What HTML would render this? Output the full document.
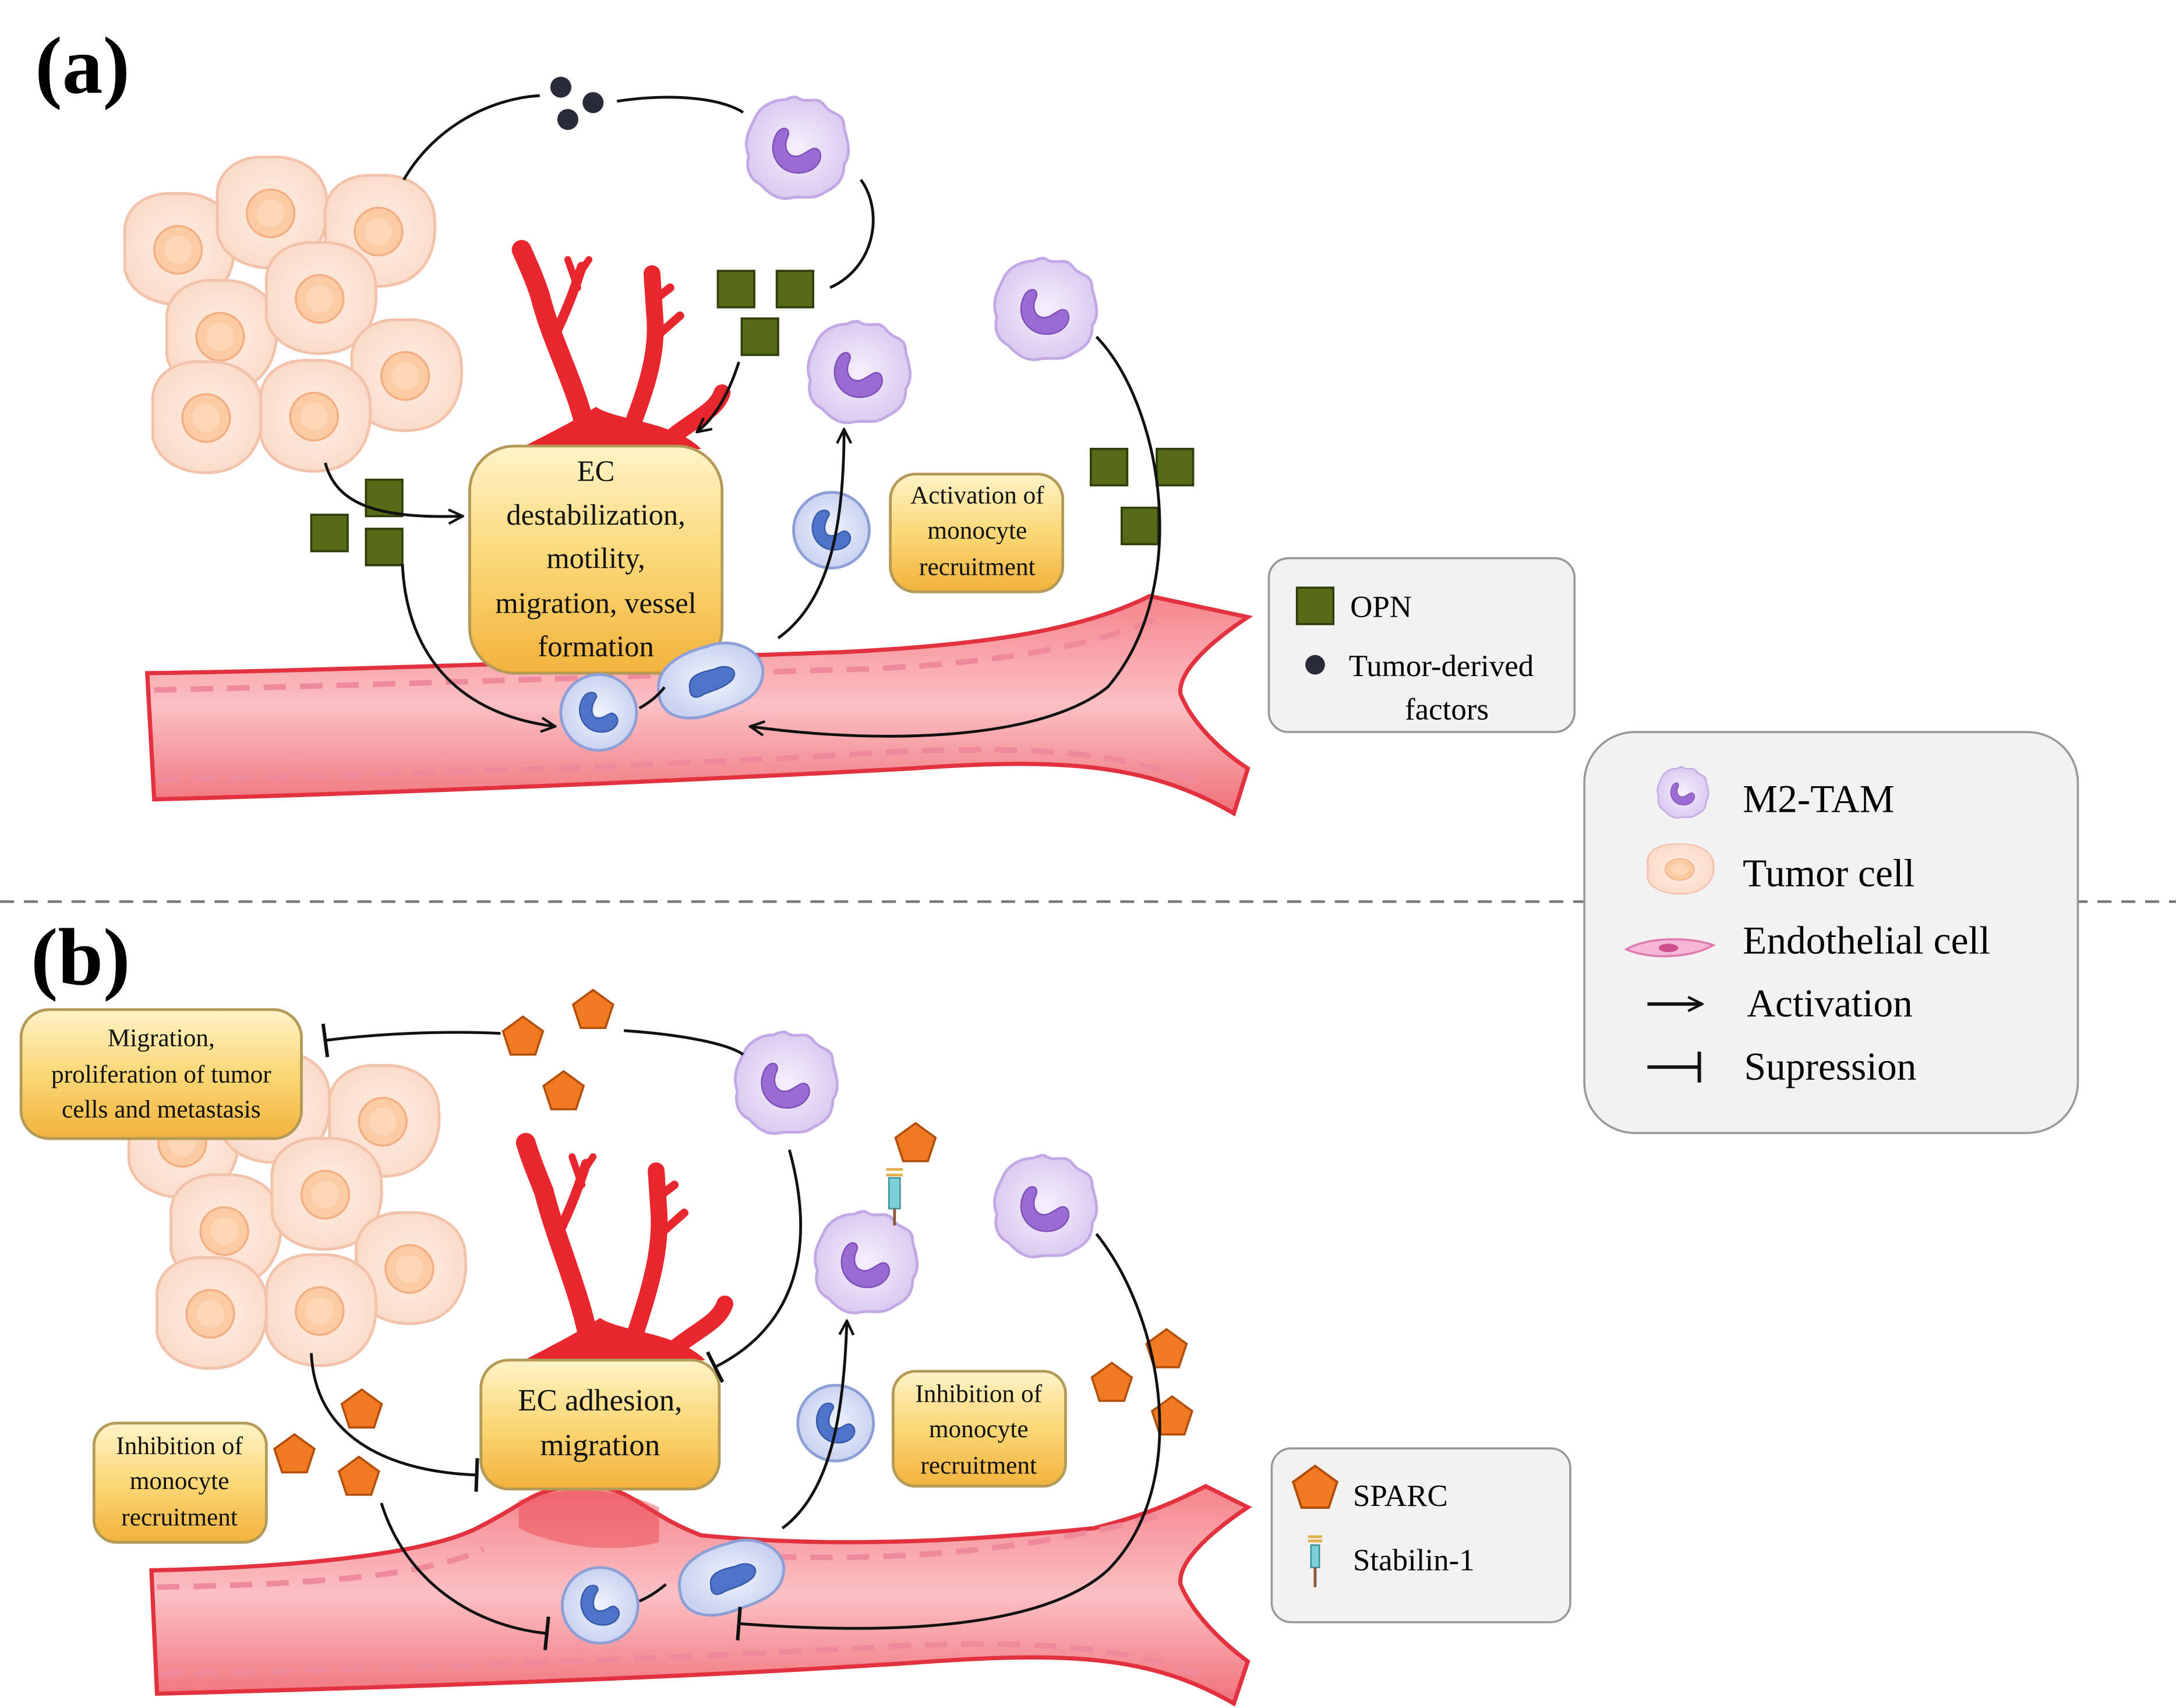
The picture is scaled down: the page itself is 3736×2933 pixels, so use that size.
<!DOCTYPE html>
<html><head><meta charset="utf-8">
<style>
html,body{margin:0;padding:0;background:#fff;}
svg{display:block;}
text{font-family:"Liberation Serif",serif;}
</style></head>
<body>
<svg width="3736" height="2933" viewBox="0 0 1552 1218" xmlns="http://www.w3.org/2000/svg">
<defs>
<linearGradient id="box" x1="0" y1="0" x2="0" y2="1">
<stop offset="0" stop-color="#fff3c8"/><stop offset="0.5" stop-color="#fbd877"/><stop offset="1" stop-color="#f2b23c"/></linearGradient>
<linearGradient id="ves" x1="0" y1="0" x2="0" y2="1">
<stop offset="0" stop-color="#f5848c"/><stop offset="0.5" stop-color="#fbc0c4"/><stop offset="1" stop-color="#f0707a"/></linearGradient>
<radialGradient id="mac" cx="0.5" cy="0.5" r="0.5"><stop offset="0" stop-color="#f7f0fd"/><stop offset="1" stop-color="#dccbf1"/></radialGradient>
<radialGradient id="mono" cx="0.5" cy="0.5" r="0.5"><stop offset="0" stop-color="#f1f4fd"/><stop offset="1" stop-color="#c9d3f1"/></radialGradient>
<radialGradient id="tum" cx="0.5" cy="0.5" r="0.5"><stop offset="0" stop-color="#feeee4"/><stop offset="1" stop-color="#fbdccb"/></radialGradient>
<marker id="ar" viewBox="0 0 12 12" refX="11" refY="6" markerWidth="12" markerHeight="12" markerUnits="userSpaceOnUse" orient="auto">
<path d="M1,1 L11,6 L1,11" fill="none" stroke="#111" stroke-width="1.8"/></marker>
<marker id="tb" viewBox="0 0 4 24" refX="2" refY="12" markerWidth="4" markerHeight="24" markerUnits="userSpaceOnUse" orient="auto">
<path d="M2,0 L2,24" stroke="#111" stroke-width="2.5"/></marker>
<g id="macro">
<path d="M0,-36 C8,-30 14,-38 20,-30 C26,-22 34,-26 34,-14 C36,-6 40,4 34,12 C34,24 28,28 20,32 C12,38 4,34 -4,36 C-14,38 -20,32 -26,26 C-34,22 -36,14 -34,6 C-38,-4 -34,-12 -30,-20 C-26,-30 -16,-34 -8,-34 C-4,-36 -2,-36 0,-36Z" fill="url(#mac)" stroke="#c3a8e6" stroke-width="2"/>
<path d="M-14,-10 C-22,4 -12,20 4,18 C14,17 20,8 16,2 C12,-2 8,4 2,6 C-6,8 -10,0 -6,-8 C-4,-14 -10,-16 -14,-10Z" fill="#9a6bd2" stroke="#7c4fb8" stroke-width="1"/>
</g>
<g id="mono1">
<circle r="27" fill="url(#mono)" stroke="#8e9fd6" stroke-width="2"/>
<path d="M-10,-12 C-18,-2 -12,14 2,14 C12,14 16,6 12,2 C8,-2 6,4 0,4 C-6,4 -6,-4 -2,-10 C0,-14 -6,-16 -10,-12Z" fill="#4d74c9" stroke="#3759a8" stroke-width="1"/>
</g>
<g id="mono2">
<path d="M-38,10 C-42,-10 -20,-20 -4,-24 C16,-32 38,-20 36,-4 C34,14 16,18 0,24 C-16,30 -36,28 -38,10Z" fill="url(#mono)" stroke="#8e9fd6" stroke-width="2"/>
<path d="M-16,6 C-18,-4 -6,-6 2,-8 C10,-12 20,-8 14,0 C8,6 -2,8 -6,10 C-12,14 -16,12 -16,6Z" fill="#4d74c9" stroke="#3759a8" stroke-width="1"/>
</g>
<g id="tcell">
<path d="M-38,-10 C-40,-30 -22,-42 -2,-40 C20,-42 40,-30 40,-8 C42,14 32,34 10,38 C-10,42 -34,34 -38,14 Z" fill="url(#tum)" stroke="#f2c2aa" stroke-width="2"/>
<circle r="17" fill="#fbcba4" stroke="#f3b084" stroke-width="1.5"/>
<circle r="10" fill="#fcd6b6"/>
</g>
<rect id="opn" x="-13" y="-13" width="26" height="26" fill="#556b18" stroke="#2f3d0a" stroke-width="1.5"/>
<path id="pent" d="M0,-15 L14.3,-4.6 L8.8,12.1 L-8.8,12.1 L-14.3,-4.6Z" fill="#f07a22" stroke="#b24e0a" stroke-width="1.5"/>
</defs>

<text x="25" y="66" font-size="58" font-weight="bold">(a)</text>
<text x="22" y="702" font-size="58" font-weight="bold">(b)</text>
<line x1="0" y1="643" x2="1552" y2="643" stroke="#777" stroke-width="1.8" stroke-dasharray="10,7"/>

<!-- ===== PANEL A ===== -->
<g>
<use href="#tcell" x="127" y="178"/><use href="#tcell" x="193" y="152"/><use href="#tcell" x="270" y="165"/>
<use href="#tcell" x="157" y="240"/><use href="#tcell" x="228" y="213"/><use href="#tcell" x="289" y="268"/>
<use href="#tcell" x="147" y="298"/><use href="#tcell" x="224" y="297"/>
</g>
<path d="M105,480 C250,478 450,470 600,465 C700,460 770,450 820,425 L890,440 C860,460 840,480 842,495 C850,515 870,535 890,548 L880,580 C820,545 760,540 650,548 C500,556 300,565 110,570 Z" fill="url(#ves)" stroke="#e2323f" stroke-width="3"/>
<path d="M110,492 C300,488 500,480 620,477 C720,472 780,460 828,440" fill="none" stroke="#ee8a9c" stroke-width="4" stroke-dasharray="16,10"/>
<path d="M112,556 C300,552 500,545 640,536 C740,532 800,536 860,560" fill="none" stroke="#ee8a9c" stroke-width="4" stroke-dasharray="16,10"/>
<g stroke="#e8262e" fill="none" stroke-linecap="round">
<path d="M420,320 C415,280 395,250 385,210 C380,195 375,185 372,178" stroke-width="14"/>
<path d="M395,240 C405,220 410,205 415,190" stroke-width="7"/>
<path d="M410,200 L420,185 M412,205 L405,185" stroke-width="5"/>
<path d="M445,320 C455,290 470,260 467,225 L465,195" stroke-width="12"/>
<path d="M468,240 L485,225 M465,215 L478,205" stroke-width="6"/>
<path d="M470,320 C490,300 510,295 515,280" stroke-width="12"/>
</g>
<path d="M350,330 C390,310 410,300 425,290 C440,300 480,300 500,320 Z" fill="#e8262e"/>

<rect x="335" y="318" width="180" height="162" rx="32" fill="url(#box)" stroke="#b39a57" stroke-width="2"/>
<g font-size="21" text-anchor="middle" fill="#111">
<text x="425" y="343">EC</text><text x="425" y="374">destabilization,</text><text x="425" y="405">motility,</text>
<text x="425" y="437">migration, vessel</text><text x="425" y="468">formation</text></g>
<rect x="635" y="338" width="123" height="84" rx="18" fill="url(#box)" stroke="#b39a57" stroke-width="2"/>
<g font-size="18" text-anchor="middle" fill="#111"><text x="697" y="359">Activation of</text><text x="697" y="384">monocyte</text><text x="697" y="410">recruitment</text></g>

<use href="#macro" x="568" y="105"/><use href="#macro" x="745" y="220"/><use href="#macro" x="612" y="265"/>
<use href="#mono1" x="593" y="378"/><use href="#mono1" x="427" y="508"/><use href="#mono2" x="508" y="485"/>
<circle cx="400" cy="62" r="7.5" fill="#2a2a38"/><circle cx="423" cy="73" r="7.5" fill="#2a2a38"/><circle cx="405" cy="85" r="7.5" fill="#2a2a38"/>
<use href="#opn" x="525" y="206"/><use href="#opn" x="567" y="206"/><use href="#opn" x="542" y="240"/>
<use href="#opn" x="274" y="355"/><use href="#opn" x="235" y="380"/><use href="#opn" x="274" y="390"/>
<use href="#opn" x="791" y="333"/><use href="#opn" x="838" y="333"/><use href="#opn" x="813" y="375"/>

<g fill="none" stroke="#111" stroke-width="2">
<path d="M288,128 C310,90 350,70 385,68"/>
<path d="M440,72 C480,66 515,70 530,80"/>
<path d="M614,128 C630,150 625,190 592,205"/>
<path d="M527,258 C520,280 510,298 497,308" marker-end="url(#ar)"/>
<path d="M232,330 C240,360 270,370 330,368" marker-end="url(#ar)"/>
<path d="M287,402 C290,470 330,510 396,518" marker-end="url(#ar)"/>
<path d="M456,505 C465,500 470,495 474,490"/>
<path d="M555,455 C590,430 602,380 602,306" marker-end="url(#ar)"/>
<path d="M782,240 C830,290 850,420 790,490 C740,530 620,530 535,518" marker-end="url(#ar)"/>
</g>

<rect x="905" y="398" width="218" height="124" rx="14" fill="#f2f2f2" stroke="#999" stroke-width="1.5"/>
<use href="#opn" x="938" y="432"/>
<text x="963" y="440" font-size="22">OPN</text>
<circle cx="938" cy="474" r="7" fill="#2a2a38"/>
<text x="962" y="482" font-size="22">Tumor-derived</text>
<text x="1002" y="513" font-size="22">factors</text>

<rect x="1130" y="522" width="352" height="286" rx="36" fill="#f2f2f2" stroke="#999" stroke-width="1.5"/>
<g transform="translate(1200,565) scale(0.5)"><use href="#macro"/></g>
<text x="1243" y="579" font-size="28">M2-TAM</text>
<g transform="translate(1198,620) scale(0.6,0.45)"><use href="#tcell"/></g>
<text x="1243" y="632" font-size="28">Tumor cell</text>
<path d="M1160,677 C1175,668 1205,668 1222,674 C1205,684 1175,684 1160,677Z" fill="#f6b6d6" stroke="#e07cb0" stroke-width="1.5"/>
<ellipse cx="1190" cy="676" rx="7" ry="3" fill="#d0508f"/>
<text x="1243" y="680" font-size="28">Endothelial cell</text>
<path d="M1175,716 L1214,716" stroke="#111" stroke-width="2.5" marker-end="url(#ar)"/>
<text x="1246" y="725" font-size="28">Activation</text>
<path d="M1175,761 L1212,761 M1212,750 L1212,772" stroke="#111" stroke-width="2.5"/>
<text x="1244" y="770" font-size="28">Supression</text>

<!-- ===== PANEL B ===== -->
<g>
<use href="#tcell" x="130" y="815"/><use href="#tcell" x="195" y="790"/><use href="#tcell" x="273" y="800"/>
<use href="#tcell" x="160" y="878"/><use href="#tcell" x="232" y="852"/><use href="#tcell" x="292" y="905"/>
<use href="#tcell" x="150" y="937"/><use href="#tcell" x="228" y="935"/>
</g>
<path d="M108,1120 C200,1118 300,1110 340,1090 C380,1070 380,1060 420,1060 C450,1060 460,1080 500,1095 C600,1105 700,1098 780,1090 C820,1080 840,1070 860,1060 L890,1075 C860,1095 840,1115 842,1130 C850,1150 870,1170 890,1185 L880,1215 C820,1180 760,1178 650,1186 C500,1196 300,1203 112,1208 Z" fill="url(#ves)" stroke="#e2323f" stroke-width="3"/>
<path d="M112,1132 C220,1130 300,1125 345,1105 M500,1108 C620,1115 720,1110 830,1080" fill="none" stroke="#ee8a9c" stroke-width="4" stroke-dasharray="16,10"/>
<path d="M114,1194 C300,1190 500,1182 640,1174 C740,1170 800,1174 860,1196" fill="none" stroke="#ee8a9c" stroke-width="4" stroke-dasharray="16,10"/>
<path d="M370,1070 C400,1060 440,1060 470,1075 L470,1100 C430,1110 390,1100 370,1090Z" fill="#e8404a" opacity="0.45"/>
<g stroke="#e8262e" fill="none" stroke-linecap="round">
<path d="M422,970 C418,930 398,890 388,850 C382,835 378,825 375,815" stroke-width="14"/>
<path d="M398,880 C408,860 413,845 418,830" stroke-width="7"/>
<path d="M413,840 L423,825 M415,845 L408,825" stroke-width="5"/>
<path d="M447,970 C458,935 472,900 470,865 L468,835" stroke-width="12"/>
<path d="M471,880 L488,865 M468,855 L481,845" stroke-width="6"/>
<path d="M472,970 C492,950 512,945 517,930" stroke-width="12"/>
</g>
<path d="M355,980 C393,960 413,950 428,940 C443,950 483,950 503,970 Z" fill="#e8262e"/>

<rect x="343" y="970" width="170" height="92" rx="20" fill="url(#box)" stroke="#b39a57" stroke-width="2"/>
<g font-size="22" text-anchor="middle" fill="#111"><text x="428" y="1006">EC adhesion,</text><text x="428" y="1038">migration</text></g>
<rect x="15" y="720" width="200" height="92" rx="20" fill="url(#box)" stroke="#b39a57" stroke-width="2"/>
<g font-size="18" text-anchor="middle" fill="#111"><text x="115" y="746">Migration,</text><text x="115" y="772">proliferation of tumor</text><text x="115" y="797">cells and metastasis</text></g>
<rect x="67" y="1015" width="123" height="85" rx="16" fill="url(#box)" stroke="#b39a57" stroke-width="2"/>
<g font-size="18" text-anchor="middle" fill="#111"><text x="128" y="1037">Inhibition of</text><text x="128" y="1062">monocyte</text><text x="128" y="1088">recruitment</text></g>
<rect x="637" y="978" width="123" height="82" rx="16" fill="url(#box)" stroke="#b39a57" stroke-width="2"/>
<g font-size="18" text-anchor="middle" fill="#111"><text x="698" y="1000">Inhibition of</text><text x="698" y="1025">monocyte</text><text x="698" y="1051">recruitment</text></g>

<use href="#macro" x="560" y="772"/><use href="#macro" x="745" y="860"/><use href="#macro" x="617" y="900"/>
<use href="#mono1" x="596" y="1015"/><use href="#mono1" x="428" y="1145"/><use href="#mono2" x="523" y="1125"/>
<use href="#pent" x="373" y="740"/><use href="#pent" x="423" y="721"/><use href="#pent" x="402" y="779"/>
<use href="#pent" x="258" y="1006"/><use href="#pent" x="210" y="1038"/><use href="#pent" x="256" y="1054"/>
<use href="#pent" x="793" y="987"/><use href="#pent" x="832" y="963"/><use href="#pent" x="836" y="1011"/>
<use href="#pent" x="653" y="816"/>
<g transform="translate(638,852)"><rect x="-4" y="-12" width="8" height="22" fill="#7ccfd6" stroke="#3a8f96"/><path d="M-6,-18 L6,-18 M-6,-14 L6,-14" stroke="#e2b050" stroke-width="2"/><path d="M0,10 L0,22" stroke="#8a5a3a" stroke-width="2"/></g>

<g fill="none" stroke="#111" stroke-width="2">
<path d="M357,737 C320,735 270,737 232,742" marker-end="url(#tb)"/>
<path d="M445,735 C490,738 520,745 530,752"/>
<path d="M563,820 C585,900 560,950 510,975" marker-end="url(#tb)"/>
<path d="M222,965 C225,1030 285,1050 340,1052" marker-end="url(#tb)"/>
<path d="M272,1072 C290,1130 340,1160 390,1165" marker-end="url(#tb)"/>
<path d="M456,1142 C465,1138 470,1134 475,1130"/>
<path d="M558,1090 C592,1065 602,1010 604,942" marker-end="url(#ar)"/>
<path d="M782,880 C830,940 850,1060 790,1120 C740,1165 620,1165 527,1158" marker-end="url(#tb)"/>
</g>

<rect x="907" y="1033" width="213" height="124" rx="14" fill="#f2f2f2" stroke="#999" stroke-width="1.5"/>
<g transform="translate(938,1062) scale(1.1)"><use href="#pent"/></g>
<text x="965" y="1074" font-size="22">SPARC</text>
<g transform="translate(938,1110)"><rect x="-3" y="-8" width="6" height="16" fill="#7ccfd6" stroke="#3a8f96"/><path d="M-5,-14 L5,-14 M-5,-11 L5,-11" stroke="#e2b050" stroke-width="2"/><path d="M0,8 L0,22" stroke="#8a5a3a" stroke-width="2"/></g>
<text x="965" y="1120" font-size="22">Stabilin-1</text>
</svg>
</body></html>
